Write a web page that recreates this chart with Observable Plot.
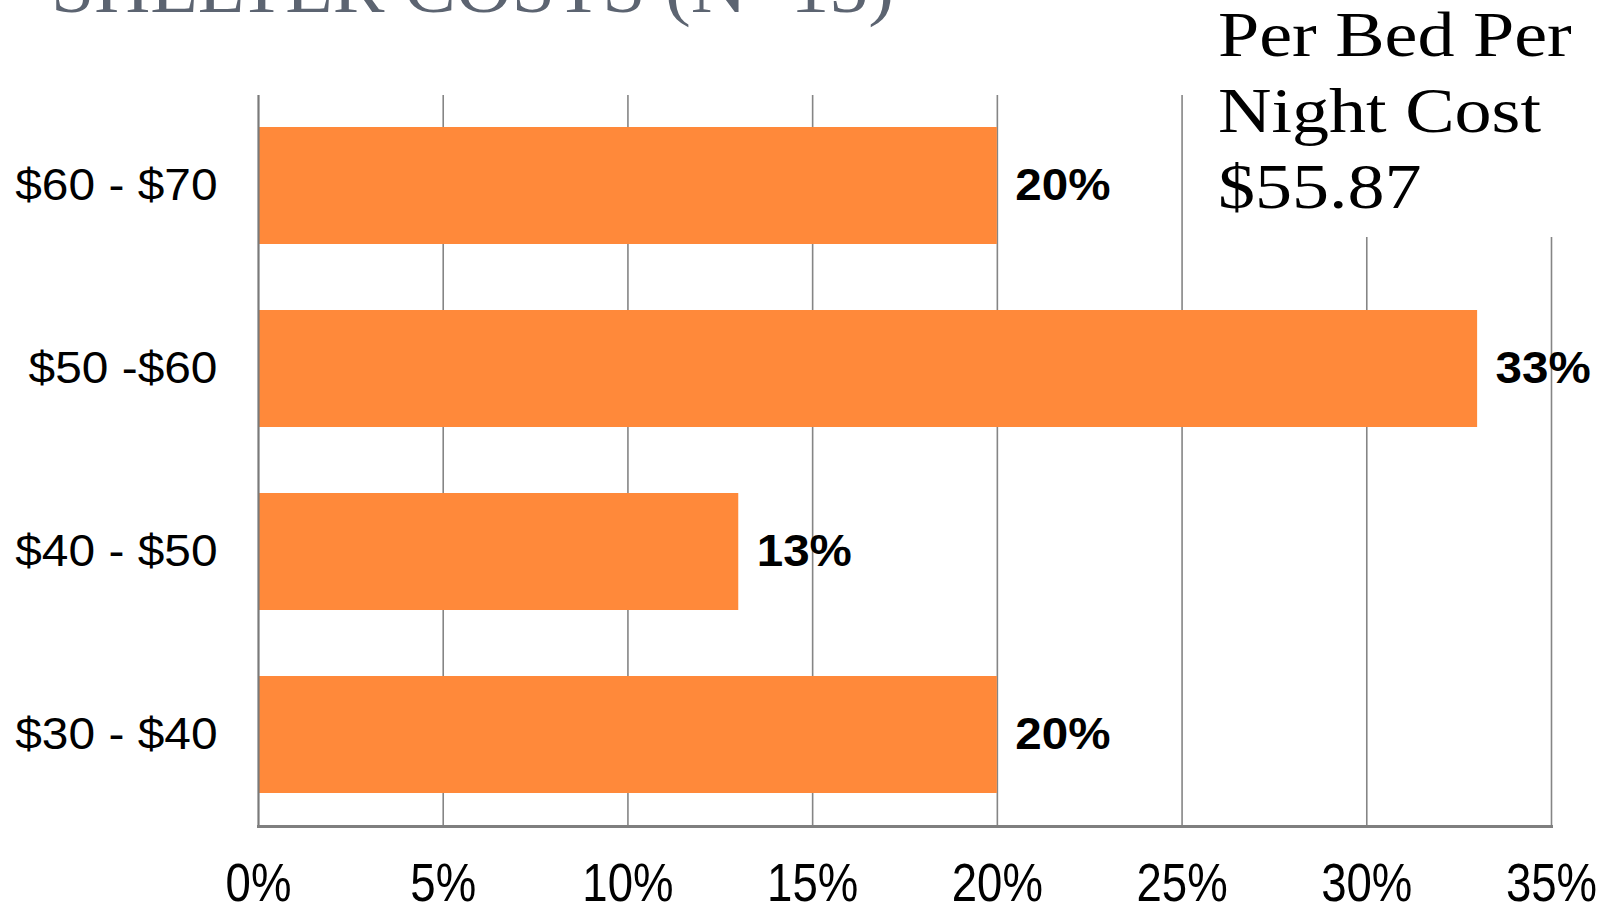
<!DOCTYPE html>
<html>
<head>
<meta charset="utf-8">
<script src="https://cdn.jsdelivr.net/npm/d3@7"></script>
<script src="https://cdn.jsdelivr.net/npm/@observablehq/plot@0.6"></script>
<style>
  body { margin: 0; background: #fff; }
  #wrap { position: relative; width: 1614px; height: 906px; overflow: hidden; background: #fff; }
  #title { position: absolute; left: 51px; top: -48px; font-family: "Liberation Serif", serif; font-size: 72px; line-height: 1; color: #5c6471; white-space: nowrap; transform: scaleX(1.078); transform-origin: 0 0; }
  #note { position: absolute; left: 1190px; top: 0; width: 424px; height: 237px; background: #fff; }
  #note .txt { position: absolute; left: 28px; top: -3px; font-family: "Liberation Serif", serif; font-size: 64px; line-height: 76px; color: #000; white-space: nowrap; transform: scaleX(1.157); transform-origin: 0 0; }
</style>
</head>
<body>
<div id="wrap">
  <div id="chart"></div>
  <div id="title">SHELTER COSTS (N=15)</div>
  <div id="note"><div class="txt">Per Bed Per<br>Night Cost<br>$55.87</div></div>
</div>
<script>
const categories = ["$60 - $70", "$50 -$60", "$40 - $50", "$30 - $40"];
const values = [20, 33, 13, 20];
const valueLabels = ["20%", "33%", "13%", "20%"];
const xTicks = [0, 5, 10, 15, 20, 25, 30, 35];
const xTickLabels = ["0%", "5%", "10%", "15%", "20%", "25%", "30%", "35%"];

const data = categories.map((c, i) => ({cat: c, v: values[i], label: valueLabels[i]}));

const chart = Plot.plot({
  width: 1614,
  height: 906,
  marginLeft: 258,
  marginRight: 63,
  marginTop: 95,
  marginBottom: 80,
  style: {fontFamily: "Liberation Sans, Arial, sans-serif", background: "white", overflow: "visible"},
  x: {domain: [0, 35], ticks: xTicks},
  y: {domain: categories, paddingInner: 0.36, paddingOuter: 0.174},
  marks: [
    Plot.ruleX(xTicks.slice(1), {stroke: "#858585", strokeWidth: 1.6}),
    Plot.barX(data, {x: "v", y: "cat", fill: "#FF893A"}),
    Plot.ruleX([0], {stroke: "#7a7a7a", strokeWidth: 2.2}),
    Plot.frame({anchor: "bottom", stroke: "#7f7f7f", strokeWidth: 3}),
    Plot.text(data, {x: "v", y: "cat", text: "label", dx: 18, textAnchor: "start", fontWeight: "bold", fontSize: 44, fill: "#000"}),
    Plot.axisY({tickSize: 0, tickPadding: 41, fontSize: 44, fill: "#000", label: null}),
    Plot.axisX({ticks: xTicks, tickFormat: d => xTickLabels[xTicks.indexOf(d)], tickSize: 0, tickPadding: 37, fontSize: 53, fill: "#000", label: null})
  ]
});
document.getElementById("chart").appendChild(chart);

// horizontal stretch / condense of glyphs to match the reference's text proportions
function stretch(selector, k) {
  chart.querySelectorAll(selector).forEach(t => {
    let tr = t.getAttribute("transform");
    if (!tr) {
      const x = t.getAttribute("x") || 0, y = t.getAttribute("y") || 0;
      t.removeAttribute("x"); t.removeAttribute("y");
      tr = `translate(${x},${y})`;
    }
    t.setAttribute("transform", `${tr} scale(${k},1)`);
  });
}
stretch('g[aria-label="y-axis tick label"] text', 1.088);
stretch('g[aria-label="text"] text', 1.08);
stretch('g[aria-label="x-axis tick label"] text', 0.86);
</script>
</body>
</html>
